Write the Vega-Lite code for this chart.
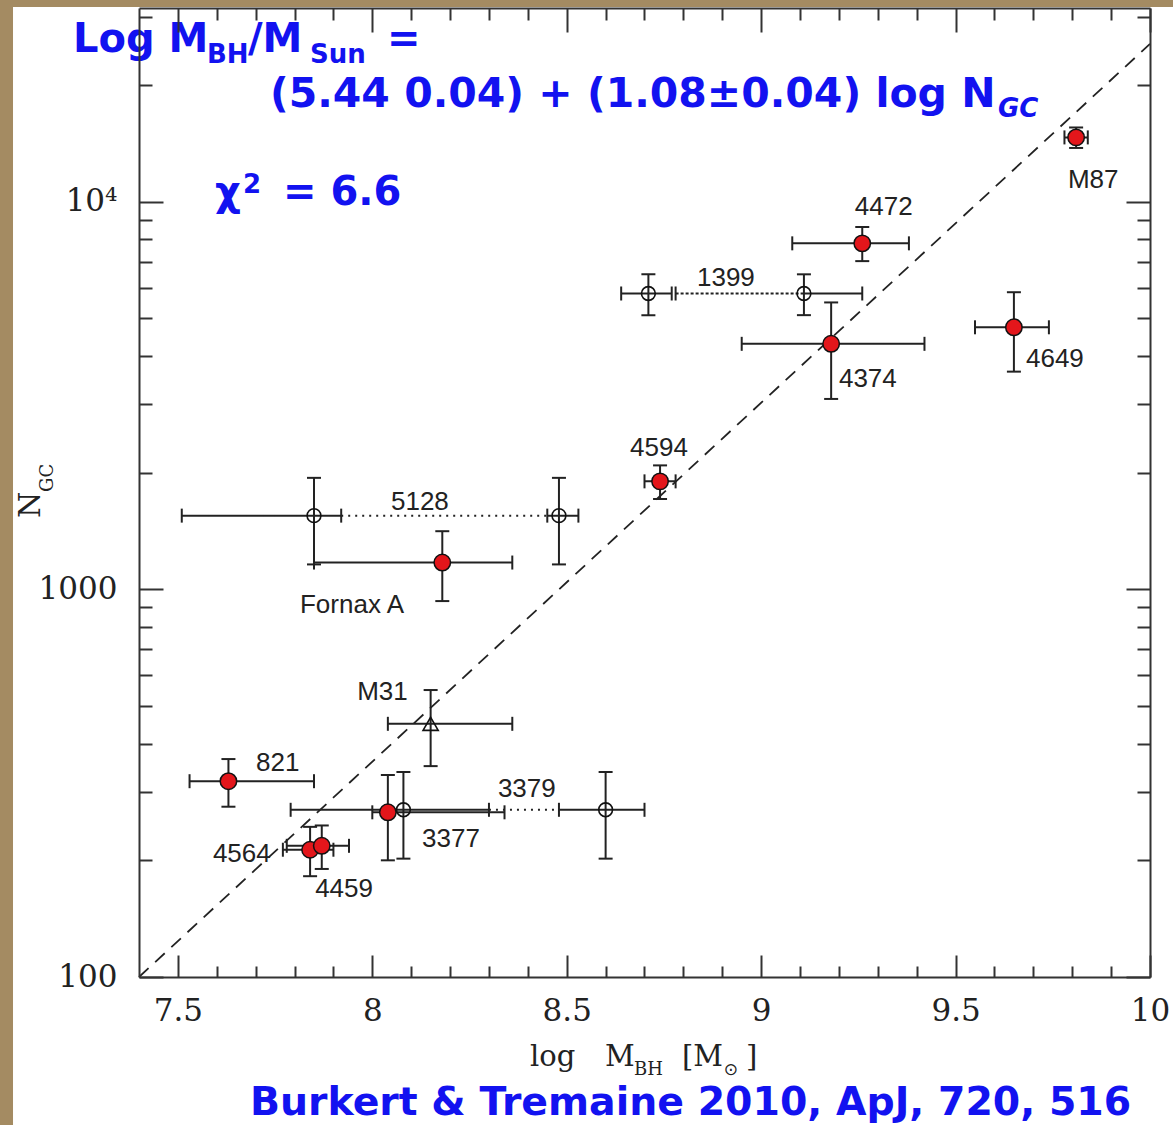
{
  "$schema": "https://vega.github.io/schema/vega-lite/v6.json",
  "width": 1011,
  "height": 969,
  "autosize": {"type": "none"},
  "padding": {"left": 139, "top": 8, "right": 23, "bottom": 148},
  "background": "#a48b62",
  "config": {"view": {"stroke": null}, "axis": {"grid": false}},
  "datasets": {
    "gal": [
      {"g": "M87", "m": 9.81, "mlo": 9.78, "mhi": 9.84, "n": 14660, "nlo": 13770, "nhi": 15550, "kind": "filled"},
      {"g": "4472", "m": 9.26, "mlo": 9.08, "mhi": 9.38, "n": 7813, "nlo": 7030, "nhi": 8610, "kind": "filled"},
      {"g": "1399", "m": 8.71, "mlo": 8.64, "mhi": 8.77, "n": 5800, "nlo": 5100, "nhi": 6500, "kind": "open"},
      {"g": "1399", "m": 9.11, "mlo": 8.78, "mhi": 9.26, "n": 5800, "nlo": 5100, "nhi": 6500, "kind": "open"},
      {"g": "4374", "m": 9.18, "mlo": 8.95, "mhi": 9.42, "n": 4301, "nlo": 3100, "nhi": 5500, "kind": "filled"},
      {"g": "4649", "m": 9.65, "mlo": 9.55, "mhi": 9.74, "n": 4745, "nlo": 3646, "nhi": 5844, "kind": "filled"},
      {"g": "4594", "m": 8.74, "mlo": 8.70, "mhi": 8.78, "n": 1900, "nlo": 1711, "nhi": 2089, "kind": "filled"},
      {"g": "5128", "m": 7.85, "mlo": 7.51, "mhi": 7.92, "n": 1550, "nlo": 1160, "nhi": 1940, "kind": "open"},
      {"g": "5128", "m": 8.48, "mlo": 8.45, "mhi": 8.53, "n": 1550, "nlo": 1160, "nhi": 1940, "kind": "open"},
      {"g": "Fornax A", "m": 8.18, "mlo": 7.85, "mhi": 8.36, "n": 1173, "nlo": 933, "nhi": 1413, "kind": "filled"},
      {"g": "M31", "m": 8.15, "mlo": 8.04, "mhi": 8.36, "n": 450, "nlo": 350, "nhi": 550, "kind": "triangle"},
      {"g": "821", "m": 7.63, "mlo": 7.53, "mhi": 7.85, "n": 320, "nlo": 275, "nhi": 365, "kind": "filled"},
      {"g": "3377", "m": 8.04, "mlo": 8.00, "mhi": 8.34, "n": 266, "nlo": 200, "nhi": 332, "kind": "filled"},
      {"g": "3379", "m": 8.08, "mlo": 7.79, "mhi": 8.30, "n": 270, "nlo": 202, "nhi": 338, "kind": "open"},
      {"g": "3379", "m": 8.60, "mlo": 8.48, "mhi": 8.70, "n": 270, "nlo": 202, "nhi": 338, "kind": "open"},
      {"g": "4564", "m": 7.84, "mlo": 7.77, "mhi": 7.90, "n": 213, "nlo": 182, "nhi": 244, "kind": "filled"},
      {"g": "4459", "m": 7.87, "mlo": 7.78, "mhi": 7.94, "n": 218, "nlo": 190, "nhi": 246, "kind": "filled"}
    ],
    "hseg": [
      {"g": "M87", "a": 9.78, "b": 9.84, "n": 14660, "line": "solid"},
      {"g": "4472", "a": 9.08, "b": 9.38, "n": 7813, "line": "solid"},
      {"g": "1399", "a": 8.64, "b": 8.77, "n": 5800, "line": "solid"},
      {"g": "1399", "a": 9.11, "b": 9.26, "n": 5800, "line": "solid"},
      {"g": "1399", "a": 8.78, "b": 9.11, "n": 5800, "line": "fine"},
      {"g": "4374", "a": 8.95, "b": 9.42, "n": 4301, "line": "solid"},
      {"g": "4649", "a": 9.55, "b": 9.74, "n": 4745, "line": "solid"},
      {"g": "4594", "a": 8.70, "b": 8.78, "n": 1900, "line": "solid"},
      {"g": "5128", "a": 7.51, "b": 7.92, "n": 1550, "line": "solid"},
      {"g": "5128", "a": 8.45, "b": 8.53, "n": 1550, "line": "solid"},
      {"g": "5128", "a": 7.92, "b": 8.45, "n": 1550, "line": "dotted"},
      {"g": "Fornax A", "a": 7.85, "b": 8.36, "n": 1173, "line": "solid"},
      {"g": "M31", "a": 8.04, "b": 8.36, "n": 450, "line": "solid"},
      {"g": "821", "a": 7.53, "b": 7.85, "n": 320, "line": "solid"},
      {"g": "3377", "a": 8.00, "b": 8.34, "n": 266, "line": "solid"},
      {"g": "3379", "a": 7.79, "b": 8.30, "n": 270, "line": "solid"},
      {"g": "3379", "a": 8.48, "b": 8.70, "n": 270, "line": "solid"},
      {"g": "3379", "a": 8.30, "b": 8.48, "n": 270, "line": "dotted"},
      {"g": "4564", "a": 7.77, "b": 7.90, "n": 213, "line": "solid"},
      {"g": "4459", "a": 7.78, "b": 7.94, "n": 218, "line": "solid"}
    ],
    "fit": [
      {"m": 7.4, "n": 100},
      {"m": 10.0, "n": 25550}
    ],
    "labels": [
      {"t": "M87", "x": 9.789, "y": 10854},
      {"t": "4472", "x": 9.241, "y": 9245},
      {"t": "1399", "x": 8.835, "y": 6065},
      {"t": "4374", "x": 9.200, "y": 3328},
      {"t": "4649", "x": 9.681, "y": 3749},
      {"t": "4594", "x": 8.663, "y": 2209},
      {"t": "5128", "x": 8.048, "y": 1603},
      {"t": "Fornax A", "x": 7.814, "y": 869.5},
      {"t": "M31", "x": 7.961, "y": 518.3},
      {"t": "821", "x": 7.701, "y": 340.0},
      {"t": "3379", "x": 8.323, "y": 291.3},
      {"t": "3377", "x": 8.128, "y": 216.5},
      {"t": "4564", "x": 7.590, "y": 198.0},
      {"t": "4459", "x": 7.853, "y": 160.8}
    ],
    "notes": [
      {"t": "Log M", "x": 7.2303, "y": 24356, "role": "big"},
      {"t": "BH", "x": 7.5749, "y": 22810, "role": "sub"},
      {"t": "/M", "x": 7.6803, "y": 24356, "role": "big"},
      {"t": "Sun", "x": 7.8400, "y": 22810, "role": "sub"},
      {"t": "=", "x": 8.0378, "y": 24356, "role": "big"},
      {"t": "(5.44 0.04) + (1.08±0.04) log N", "x": 7.7369, "y": 17568, "role": "eq"},
      {"t": "GC", "x": 9.6091, "y": 16551, "role": "subItalic"},
      {"t": "χ", "x": 7.5954, "y": 9810, "role": "big"},
      {"t": "2", "x": 7.6675, "y": 10537, "role": "sub"},
      {"t": "= 6.6", "x": 7.7703, "y": 9810, "role": "big"},
      {"t": "Burkert & Tremaine 2010, ApJ, 720, 516", "x": 7.6855, "y": 44.06, "role": "cite"}
    ],
    "titles": [
      {"t": "log", "x": 8.4055, "y": 58.95, "role": "main"},
      {"t": "M", "x": 8.5984, "y": 58.95, "role": "main"},
      {"t": "BH", "x": 8.673, "y": 55.87, "role": "sub"},
      {"t": "[M", "x": 8.7964, "y": 58.95, "role": "main"},
      {"t": "⊙", "x": 8.9035, "y": 55.87, "role": "sun"},
      {"t": "]", "x": 8.9610, "y": 58.95, "role": "main"},
      {"t": "N", "x": 7.1454, "y": 1528, "role": "ymain"},
      {"t": "GC", "x": 7.1788, "y": 1784, "role": "ysub"}
    ]
  },
  "resolve": {"axis": {"x": "independent", "y": "independent"}},
  "layer": [
    {
      "data": {"values": [{}]},
      "mark": {"type": "rect", "fill": "#ffffff"},
      "encoding": {
        "x": {"datum": 7.076, "type": "quantitative", "scale": {"domain": [7.4, 10], "nice": false, "zero": false}, "axis": null},
        "x2": {"datum": 10.4},
        "y": {"datum": 31811, "type": "quantitative", "scale": {"type": "log", "domain": [100, 31622.8], "nice": false}, "axis": null},
        "y2": {"datum": 20}
      }
    },
    {
      "data": {"name": "fit"},
      "mark": {"type": "line", "color": "#222222", "strokeWidth": 1.8, "strokeDash": [13, 9]},
      "encoding": {
        "x": {"field": "m", "type": "quantitative", "axis": null},
        "y": {"field": "n", "type": "quantitative", "axis": null}
      }
    },
    {
      "data": {"name": "hseg"},
      "mark": {"type": "rule", "color": "#222222", "strokeWidth": 2},
      "encoding": {
        "x": {"field": "a", "type": "quantitative", "axis": {"orient": "bottom", "values": [7.5, 8, 8.5, 9, 9.5, 10], "format": "~g", "title": null, "tickSize": -22, "tickWidth": 2, "tickColor": "#333333", "domain": true, "domainWidth": 2, "domainColor": "#333333", "labelFont": "DejaVu Serif", "labelFontSize": 31, "labelColor": "#222222", "labelPadding": 41, "labelFlush": false, "labelOverlap": false, "labelBound": false, "zindex": 1}},
        "x2": {"field": "b"},
        "y": {"field": "n", "type": "quantitative", "axis": {"orient": "left", "values": [100, 1000, 10000], "labelExpr": "datum.value >= 10000 ? '10⁴' : format(datum.value, 'd')", "title": null, "tickSize": -24, "tickWidth": 2, "tickColor": "#333333", "domain": true, "domainWidth": 2, "domainColor": "#333333", "labelFont": "DejaVu Serif", "labelFontSize": 31, "labelColor": "#222222", "labelPadding": 46, "labelBaseline": "middle", "labelFlush": false, "labelOverlap": false, "labelBound": false, "zindex": 1}},
        "strokeDash": {"field": "line", "type": "nominal", "scale": {"domain": ["solid", "dotted", "fine"], "range": [[1, 0], [2, 5], [3, 2]]}, "legend": null}
      }
    },
    {
      "data": {"name": "gal"},
      "mark": {"type": "rule", "color": "#222222", "strokeWidth": 2},
      "encoding": {
        "x": {"field": "m", "type": "quantitative", "axis": {"orient": "bottom", "values": [7.6, 7.7, 7.8, 7.9, 8.1, 8.2, 8.3, 8.4, 8.6, 8.7, 8.8, 8.9, 9.1, 9.2, 9.3, 9.4, 9.6, 9.7, 9.8, 9.9], "title": null, "labels": false, "domain": false, "tickSize": -11, "tickWidth": 2, "tickColor": "#333333", "zindex": 1}},
        "y": {"field": "nlo", "type": "quantitative", "axis": {"orient": "left", "values": [200, 300, 400, 500, 600, 700, 800, 900, 2000, 3000, 4000, 5000, 6000, 7000, 8000, 9000, 20000, 30000], "title": null, "labels": false, "domain": false, "tickSize": -13, "tickWidth": 2, "tickColor": "#333333", "zindex": 1}},
        "y2": {"field": "nhi"}
      }
    },
    {
      "data": {"name": "gal"},
      "mark": {"type": "tick", "orient": "vertical", "color": "#222222", "size": 14, "thickness": 2, "opacity": 1},
      "encoding": {
        "x": {"field": "mlo", "type": "quantitative", "axis": {"orient": "top", "values": [7.5, 8, 8.5, 9, 9.5, 10], "title": null, "labels": false, "domain": true, "domainWidth": 2, "domainColor": "#333333", "tickSize": -24, "tickWidth": 2, "tickColor": "#333333", "zindex": 1}},
        "y": {"field": "n", "type": "quantitative", "axis": {"orient": "right", "values": [100, 1000, 10000], "title": null, "labels": false, "domain": true, "domainWidth": 2, "domainColor": "#333333", "tickSize": -24, "tickWidth": 2, "tickColor": "#333333", "zindex": 1}}
      }
    },
    {
      "data": {"name": "gal"},
      "mark": {"type": "tick", "orient": "vertical", "color": "#222222", "size": 14, "thickness": 2, "opacity": 1},
      "encoding": {
        "x": {"field": "mhi", "type": "quantitative", "axis": {"orient": "top", "values": [7.6, 7.7, 7.8, 7.9, 8.1, 8.2, 8.3, 8.4, 8.6, 8.7, 8.8, 8.9, 9.1, 9.2, 9.3, 9.4, 9.6, 9.7, 9.8, 9.9], "title": null, "labels": false, "domain": false, "tickSize": -12, "tickWidth": 2, "tickColor": "#333333", "zindex": 1}},
        "y": {"field": "n", "type": "quantitative", "axis": {"orient": "right", "values": [200, 300, 400, 500, 600, 700, 800, 900, 2000, 3000, 4000, 5000, 6000, 7000, 8000, 9000, 20000, 30000], "title": null, "labels": false, "domain": false, "tickSize": -13, "tickWidth": 2, "tickColor": "#333333", "zindex": 1}}
      }
    },
    {
      "data": {"name": "gal"},
      "mark": {"type": "tick", "orient": "horizontal", "color": "#222222", "size": 14, "thickness": 2, "opacity": 1},
      "encoding": {
        "x": {"field": "m", "type": "quantitative", "axis": null},
        "y": {"field": "nlo", "type": "quantitative", "axis": null}
      }
    },
    {
      "data": {"name": "gal"},
      "mark": {"type": "tick", "orient": "horizontal", "color": "#222222", "size": 14, "thickness": 2, "opacity": 1},
      "encoding": {
        "x": {"field": "m", "type": "quantitative", "axis": null},
        "y": {"field": "nhi", "type": "quantitative", "axis": null}
      }
    },
    {
      "data": {"name": "gal"},
      "transform": [{"filter": "datum.kind == 'filled'"}],
      "mark": {"type": "point", "shape": "circle", "filled": true, "fill": "#e3161b", "stroke": "#111111", "strokeWidth": 1.5, "size": 270, "opacity": 1},
      "encoding": {
        "x": {"field": "m", "type": "quantitative", "axis": null},
        "y": {"field": "n", "type": "quantitative", "axis": null}
      }
    },
    {
      "data": {"name": "gal"},
      "transform": [{"filter": "datum.kind == 'open'"}],
      "mark": {"type": "point", "shape": "circle", "filled": false, "stroke": "#111111", "strokeWidth": 1.6, "size": 190, "opacity": 1},
      "encoding": {
        "x": {"field": "m", "type": "quantitative", "axis": null},
        "y": {"field": "n", "type": "quantitative", "axis": null}
      }
    },
    {
      "data": {"name": "gal"},
      "transform": [{"filter": "datum.kind == 'triangle'"}],
      "mark": {"type": "point", "shape": "triangle-up", "filled": false, "stroke": "#111111", "strokeWidth": 1.6, "size": 230, "opacity": 1},
      "encoding": {
        "x": {"field": "m", "type": "quantitative", "axis": null},
        "y": {"field": "n", "type": "quantitative", "axis": null}
      }
    },
    {
      "data": {"name": "labels"},
      "mark": {"type": "text", "font": "Liberation Sans", "fontSize": 26, "color": "#222222", "align": "left", "baseline": "alphabetic"},
      "encoding": {
        "x": {"field": "x", "type": "quantitative", "axis": null},
        "y": {"field": "y", "type": "quantitative", "axis": null},
        "text": {"field": "t"}
      }
    },
    {
      "data": {"name": "notes"},
      "transform": [{"filter": "datum.role == 'big'"}],
      "mark": {"type": "text", "font": "DejaVu Sans", "fontWeight": "bold", "fontSize": 40, "color": "#1212f0", "align": "left", "baseline": "alphabetic"},
      "encoding": {
        "x": {"field": "x", "type": "quantitative", "axis": null},
        "y": {"field": "y", "type": "quantitative", "axis": null},
        "text": {"field": "t"}
      }
    },
    {
      "data": {"name": "notes"},
      "transform": [{"filter": "datum.role == 'eq'"}],
      "mark": {"type": "text", "font": "DejaVu Sans", "fontWeight": "bold", "fontSize": 41, "color": "#1212f0", "align": "left", "baseline": "alphabetic"},
      "encoding": {
        "x": {"field": "x", "type": "quantitative", "axis": null},
        "y": {"field": "y", "type": "quantitative", "axis": null},
        "text": {"field": "t"}
      }
    },
    {
      "data": {"name": "notes"},
      "transform": [{"filter": "datum.role == 'cite'"}],
      "mark": {"type": "text", "font": "DejaVu Sans", "fontWeight": "bold", "fontSize": 39.4, "color": "#1212f0", "align": "left", "baseline": "alphabetic"},
      "encoding": {
        "x": {"field": "x", "type": "quantitative", "axis": null},
        "y": {"field": "y", "type": "quantitative", "axis": null},
        "text": {"field": "t"}
      }
    },
    {
      "data": {"name": "notes"},
      "transform": [{"filter": "datum.role == 'sub'"}],
      "mark": {"type": "text", "font": "DejaVu Sans", "fontWeight": "bold", "fontSize": 26, "color": "#1212f0", "align": "left", "baseline": "alphabetic"},
      "encoding": {
        "x": {"field": "x", "type": "quantitative", "axis": null},
        "y": {"field": "y", "type": "quantitative", "axis": null},
        "text": {"field": "t"}
      }
    },
    {
      "data": {"name": "notes"},
      "transform": [{"filter": "datum.role == 'subItalic'"}],
      "mark": {"type": "text", "font": "DejaVu Sans", "fontWeight": "bold", "fontStyle": "italic", "fontSize": 26, "color": "#1212f0", "align": "left", "baseline": "alphabetic"},
      "encoding": {
        "x": {"field": "x", "type": "quantitative", "axis": null},
        "y": {"field": "y", "type": "quantitative", "axis": null},
        "text": {"field": "t"}
      }
    },
    {
      "data": {"name": "titles"},
      "transform": [{"filter": "datum.role == 'main'"}],
      "mark": {"type": "text", "font": "DejaVu Serif", "fontSize": 29, "color": "#222222", "align": "left", "baseline": "alphabetic"},
      "encoding": {
        "x": {"field": "x", "type": "quantitative", "axis": null},
        "y": {"field": "y", "type": "quantitative", "axis": null},
        "text": {"field": "t"}
      }
    },
    {
      "data": {"name": "titles"},
      "transform": [{"filter": "datum.role == 'sub'"}],
      "mark": {"type": "text", "font": "DejaVu Serif", "fontSize": 18, "color": "#222222", "align": "left", "baseline": "alphabetic"},
      "encoding": {
        "x": {"field": "x", "type": "quantitative", "axis": null},
        "y": {"field": "y", "type": "quantitative", "axis": null},
        "text": {"field": "t"}
      }
    },
    {
      "data": {"name": "titles"},
      "transform": [{"filter": "datum.role == 'sun'"}],
      "mark": {"type": "text", "font": "DejaVu Sans", "fontSize": 17, "color": "#222222", "align": "left", "baseline": "alphabetic"},
      "encoding": {
        "x": {"field": "x", "type": "quantitative", "axis": null},
        "y": {"field": "y", "type": "quantitative", "axis": null},
        "text": {"field": "t"}
      }
    },
    {
      "data": {"name": "titles"},
      "transform": [{"filter": "datum.role == 'ymain'"}],
      "mark": {"type": "text", "font": "DejaVu Serif", "fontSize": 30, "color": "#222222", "align": "left", "baseline": "alphabetic", "angle": 270},
      "encoding": {
        "x": {"field": "x", "type": "quantitative", "axis": null},
        "y": {"field": "y", "type": "quantitative", "axis": null},
        "text": {"field": "t"}
      }
    },
    {
      "data": {"name": "titles"},
      "transform": [{"filter": "datum.role == 'ysub'"}],
      "mark": {"type": "text", "font": "DejaVu Serif", "fontSize": 18, "color": "#222222", "align": "left", "baseline": "alphabetic", "angle": 270},
      "encoding": {
        "x": {"field": "x", "type": "quantitative", "axis": null},
        "y": {"field": "y", "type": "quantitative", "axis": null},
        "text": {"field": "t"}
      }
    }
  ]
}
